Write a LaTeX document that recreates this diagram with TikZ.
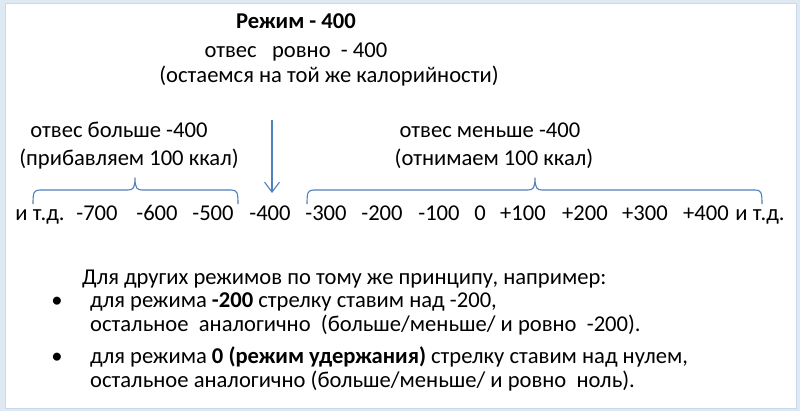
\documentclass[tikz,border=0pt]{standalone}
\usepackage{fontspec}
\setmainfont{Carlito}
\usetikzlibrary{arrows.meta}
\definecolor{frameblue}{HTML}{DFE9F4}
\definecolor{edgeblue}{HTML}{C9D9EC}
\definecolor{markblue}{HTML}{4F81BD}
\begin{document}
\begin{tikzpicture}[x=1pt,y=-1pt,
  txt/.style={inner sep=0pt, anchor=base, font=\fontsize{22.6}{27}\selectfont},
  ltxt/.style={txt, anchor=base west},
  num/.style={txt},
  brace/.style={draw=markblue, line width=1.1pt, line join=round},
  pointer/.style={draw=markblue, line width=1.1pt, -{Straight Barb[length=10pt,width=15pt,line width=1.1pt]}}]
\fill[frameblue] (0,0) rectangle (800,411);
\fill[white] (5,3) rectangle (796,408);
\draw[edgeblue, line width=0.6pt] (5,3) rectangle (796,408);
\useasboundingbox (0,0) rectangle (800,411);
% top block
\node[txt, font=\fontsize{22.6}{27}\bfseries] (title) at (296,29) {Режим - 400};
\node[txt] (equal) at (296,58) {отвес\ \ \ ровно\ \ - 400};
\node[txt] (stay) at (329,83) {(остаемся на той же калорийности)};
% side labels
\node[txt] (moreA) at (119,138) {отвес больше -400};
\node[txt] (moreB) at (129,166) {(прибавляем 100 ккал)};
\node[txt] (lessA) at (490,138) {отвес меньше -400};
\node[txt] (lessB) at (494,166) {(отнимаем 100 ккал)};
% number row
\node[num] (etcL) at (40,221) {и т.д.};
\node[num] (m700) at (97,221) {-700};
\node[num] (m600) at (157,221) {-600};
\node[num] (m500) at (213,221) {-500};
\node[num] (m400) at (270,221) {-400};
\node[num] (m300) at (326,221) {-300};
\node[num] (m200) at (382,221) {-200};
\node[num] (m100) at (439,221) {-100};
\node[num] (zero) at (480,221) {0};
\node[num] (p100) at (523,221) {+100};
\node[num] (p200) at (585,221) {+200};
\node[num] (p300) at (645,221) {+300};
\node[num] (p400) at (706,221) {+400};
\node[num] (etcR) at (760,221) {и т.д.};
% braces
\draw[brace] (33,204) .. controls (33,192) and (34,190) .. (40,190) -- (128,190)
  .. controls (133,190) and (135,188) .. (135,178)
  .. controls (135,188) and (137,190) .. (142,190) -- (231,190)
  .. controls (237,190) and (238,192) .. (238,204);
\draw[brace] (307,204) .. controls (307,192) and (308,190) .. (314,190) -- (528,190)
  .. controls (533,190) and (535,188) .. (535,178)
  .. controls (535,188) and (537,190) .. (542,190) -- (755,190)
  .. controls (761,190) and (762,192) .. (762,204);
% pointer arrow
\coordinate (arrowtop) at (272,120);
\coordinate (arrowtip) at (272,193);
\draw[pointer] (arrowtop) -- (arrowtip);
% bottom text
\node[ltxt] (intro) at (82,285) {Для других режимов по тому же принципу, например:};
\node[txt] (bul1) at (57,308) {•};
\node[ltxt] (line1) at (90,308) {для режима \textbf{-200} стрелку ставим над -200,};
\node[ltxt] (line2) at (90,331) {остальное\ \ аналогично\ \ (больше/меньше/ и ровно\ \ -200).};
\node[txt] (bul2) at (57,363) {•};
\node[ltxt] (line3) at (90,363) {для режима \textbf{0 (режим удержания)} стрелку ставим над нулем,};
\node[ltxt] (line4) at (90,387) {остальное аналогично (больше/меньше/ и ровно\ \ ноль).};
\end{tikzpicture}
\end{document}
